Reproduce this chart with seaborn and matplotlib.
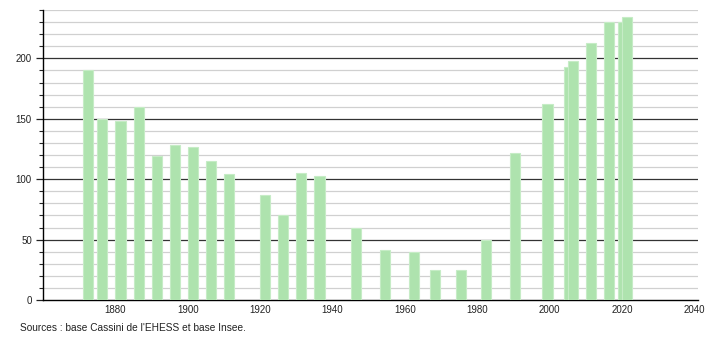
import matplotlib
matplotlib.use("Agg")
import matplotlib.pyplot as plt
import matplotlib.transforms as mtransforms
import seaborn as sns
import pandas as pd
from matplotlib.ticker import MultipleLocator, FixedLocator

years = [1872, 1876, 1881, 1886, 1891, 1896, 1901, 1906, 1911, 1921, 1926, 1931, 1936,
         1946, 1954, 1962, 1968, 1975, 1982, 1990, 1999, 2005, 2006, 2011, 2016, 2020, 2021]
population = [190, 150, 148, 160, 119, 128, 127, 115, 104, 87, 70, 105, 103,
              60, 41, 40, 25, 25, 50, 122, 162, 193, 198, 213, 230, 230, 234]
x_ticks = [1880, 1900, 1920, 1940, 1960, 1980, 2000, 2020, 2040]
y_ticks = [0, 50, 100, 150, 200]
source_text = "Sources : base Cassini de l'EHESS et base Insee."

sns.set_style("white")
plt.rcParams['font.family'] = ['Liberation Sans', 'DejaVu Sans']

df = pd.DataFrame({"year": years, "pop": population})

fig = plt.figure(figsize=(7.1, 3.4), dpi=100)
ax = fig.add_axes([43 / 710, 1 - 300 / 340, (698 - 43) / 710, 290 / 340])

sns.barplot(data=df, x="year", y="pop", native_scale=True, width=2.8,
            color="#aee3ae", saturation=1, errorbar=None, ax=ax,
            edgecolor="#c6ecc6", linewidth=0.8, zorder=3)

# slight rightward nudge of the bars, as in the reference rendering
shift = mtransforms.ScaledTranslation(1.5 / 100, 0, fig.dpi_scale_trans)
for p in ax.patches:
    p.set_transform(ax.transData + shift)

ax.set_xlim(1860, 2041)
ax.set_ylim(0, 240)

ax.xaxis.set_major_locator(FixedLocator(x_ticks))
ax.yaxis.set_major_locator(FixedLocator(y_ticks))
ax.yaxis.set_minor_locator(MultipleLocator(10))

for v in range(10, 250, 10):
    if v % 50 == 0 and v <= 200:
        ax.axhline(v, color="#333333", lw=0.9, zorder=1)
    else:
        ax.axhline(v, color="#d0d0d0", lw=0.9, zorder=1)

ax.set_xlabel("")
ax.set_ylabel("")
for s in ["top", "right"]:
    ax.spines[s].set_visible(False)
for s in ["left", "bottom"]:
    ax.spines[s].set_color("black")
    ax.spines[s].set_linewidth(1.0)

ax.tick_params(axis="x", length=0, labelsize=7, pad=3.5, colors="#222222")
ax.tick_params(axis="y", which="major", length=5, width=0.9, labelsize=7,
               pad=3, colors="#222222", direction="out", left=True)
ax.tick_params(axis="y", which="minor", length=3, width=0.8, direction="out", left=True)
ax.set_xticklabels([str(t) for t in x_ticks])
ax.set_yticklabels([str(t) for t in y_ticks])

fig.text(20 / 710, 1 - 328 / 340, source_text, fontsize=7.3, color="#222222",
         va="center", ha="left")

fig.savefig("out.png", dpi=100)
